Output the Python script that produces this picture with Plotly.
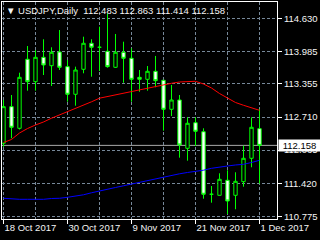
import plotly.graph_objects as go

# ---- data ----
bar_index = list(range(33))  # 18 Oct 2017 .. 1 Dec 2017, daily bars
opens = [112.199, 112.911, 112.490, 113.833, 113.397, 113.871, 113.708, 113.975,
         113.689, 113.152, 113.638, 114.144, 114.066, 113.988, 113.677, 113.969,
         113.852, 113.482, 113.443, 113.599, 113.424, 112.860, 113.041, 112.101,
         112.599, 112.424, 111.207, 111.187, 111.479, 111.187, 111.452, 111.907,
         112.483]
highs = [113.041, 113.138, 113.572, 114.091, 114.013, 114.222, 114.066, 114.402,
         113.819, 113.689, 114.272, 114.222, 114.467, 114.727, 114.325, 114.175,
         114.046, 113.624, 113.702, 113.897, 113.424, 113.333, 113.138, 112.704,
         112.704, 112.490, 111.368, 111.615, 111.673, 111.635, 112.152, 112.704,
         112.863]
lows = [112.132, 112.296, 112.467, 113.222, 113.222, 113.527, 113.313, 113.624,
        113.008, 112.930, 113.560, 113.494, 113.605, 113.669, 113.663, 113.377,
        113.008, 113.202, 113.222, 113.288, 112.444, 112.730, 111.919, 111.860,
        112.146, 111.121, 111.043, 111.183, 110.823, 110.915, 111.354, 111.732,
        111.414]
closes = [112.911, 112.510, 113.482, 113.397, 113.871, 113.722, 113.969, 113.677,
          113.152, 113.624, 114.144, 114.066, 114.066, 113.689, 113.969, 113.852,
          113.443, 113.443, 113.599, 113.416, 112.860, 113.041, 112.166, 112.588,
          112.432, 111.207, 111.207, 111.498, 111.076, 111.459, 111.907, 112.510,
          112.158]
ma_red = [112.214, 112.273, 112.399, 112.486, 112.555, 112.613, 112.687, 112.749,
          112.807, 112.876, 112.934, 113.006, 113.076, 113.109, 113.138, 113.171,
          113.202, 113.235, 113.274, 113.307, 113.342, 113.366, 113.391, 113.405,
          113.405, 113.352, 113.274, 113.167, 113.080, 112.992, 112.938, 112.895,
          112.840]
ma_blue = [111.129, 111.115, 111.109, 111.109, 111.109, 111.109, 111.125, 111.129,
           111.148, 111.168, 111.197, 111.236, 111.275, 111.310, 111.339, 111.372,
           111.407, 111.436, 111.475, 111.514, 111.543, 111.572, 111.605, 111.631,
           111.650, 111.675, 111.712, 111.741, 111.757, 111.777, 111.790, 111.825,
           111.868]

x_tick_idx = [0, 8, 16, 24, 32]
x_tick_labels = ["18 Oct 2017", "30 Oct 2017", "9 Nov 2017", "21 Nov 2017", "1 Dec 2017"]
y_tick_vals = [114.630, 113.985, 113.355, 112.710, 112.065, 111.420, 110.775]
y_tick_labels = ["114.630", "113.985", "113.355", "112.710", "112.065", "111.420", "110.775"]

symbol = "USDJPY,Daily"
last_ohlc = [opens[-1], highs[-1], lows[-1], closes[-1]]

FONT = "Liberation Sans, Arial, sans-serif"
FS = 9.5
GRID = "#778899"
TXT = "#f4f4f4"

fig = go.Figure()
fig.add_trace(go.Candlestick(
    x=bar_index, open=opens, high=highs, low=lows, close=closes,
    increasing=dict(line=dict(color="#00ff00", width=1), fillcolor="#000000"),
    decreasing=dict(line=dict(color="#00ff00", width=1), fillcolor="#ffffff"),
    whiskerwidth=0, showlegend=False, hoverinfo="skip"))
fig.add_trace(go.Scatter(x=bar_index, y=ma_red, mode="lines",
                         line=dict(color="#ff0000", width=1), showlegend=False, hoverinfo="skip"))
fig.add_trace(go.Scatter(x=bar_index, y=ma_blue, mode="lines",
                         line=dict(color="#0000ff", width=1), showlegend=False, hoverinfo="skip"))

# current bid line
fig.add_hline(y=closes[-1], line=dict(color="#a8a8a8", width=1), layer="below")

fig.add_annotation(xref="paper", yref="y", x=1, y=closes[-1], xanchor="left", yanchor="middle",
                   xshift=1, text=f"{closes[-1]:.3f}", showarrow=False,
                   bgcolor="#ffffff", borderpad=0, width=41, height=11,
                   font=dict(family=FONT, size=FS, color="#000000"))

title_text = "\u25BC " + symbol + "  " + " ".join(f"{v:.3f}" for v in last_ohlc)
fig.add_annotation(xref="paper", yref="paper", x=0.0, y=0.963, xanchor="left", yanchor="middle",
                   xshift=2, text=title_text, showarrow=False,
                   font=dict(family=FONT, size=FS, color=TXT))

fig.update_layout(
    width=320, height=240,
    margin=dict(l=2, r=43, t=2, b=21),
    paper_bgcolor="#000000", plot_bgcolor="#000000",
    boxgap=0.4,
    showlegend=False,
    xaxis=dict(
        range=[-0.1875, 34.1875], rangeslider=dict(visible=False),
        tickmode="array", tickvals=x_tick_idx, ticktext=x_tick_labels,
        ticks="outside", ticklen=4, tickcolor="#ffffff", ticklabelposition="outside right",
        tickangle=0,
        tickfont=dict(family=FONT, size=FS, color=TXT),
        showgrid=True, gridcolor=GRID, griddash="3px,2px", gridwidth=1,
        minor=dict(tick0=0, dtick=4, showgrid=True, gridcolor=GRID, griddash="3px,2px", ticklen=0),
        showline=True, linecolor="#ffffff", linewidth=1, mirror=True, zeroline=False,
        fixedrange=True),
    yaxis=dict(
        range=[110.726, 114.947], side="right",
        tickmode="array", tickvals=y_tick_vals, ticktext=y_tick_labels,
        ticks="outside", ticklen=4, tickcolor="#ffffff",
        tickfont=dict(family=FONT, size=FS, color=TXT),
        showgrid=True, gridcolor=GRID, griddash="3px,2px", gridwidth=1,
        showline=True, linecolor="#ffffff", linewidth=1, mirror=True, zeroline=False,
        fixedrange=True),
)

fig.write_html("out.html", config={"displayModeBar": False})
